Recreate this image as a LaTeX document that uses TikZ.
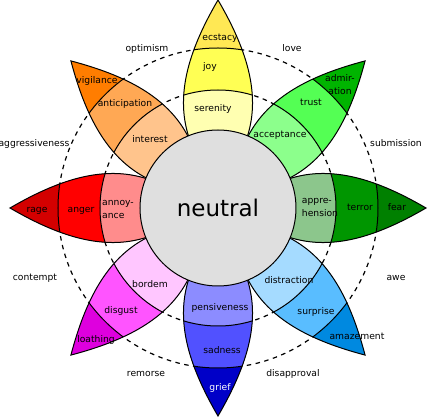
\documentclass[tikz,border=0pt]{standalone}
\usepackage{fontspec}
\setmainfont{DejaVu Sans}
\definecolor{ecst}{HTML}{FFE854}
\definecolor{joyc}{HTML}{FFFF54}
\definecolor{sere}{HTML}{FFFFB1}
\definecolor{admi}{HTML}{00B400}
\definecolor{trus}{HTML}{54FF54}
\definecolor{acce}{HTML}{8CFF8C}
\definecolor{fear}{HTML}{008000}
\definecolor{terr}{HTML}{009600}
\definecolor{appr}{HTML}{8CC68C}
\definecolor{amaz}{HTML}{0089E0}
\definecolor{surp}{HTML}{59BDFF}
\definecolor{dist}{HTML}{A5DBFF}
\definecolor{grie}{HTML}{0000C8}
\definecolor{sadn}{HTML}{5151FF}
\definecolor{pens}{HTML}{8C8CFF}
\definecolor{loat}{HTML}{DE00DE}
\definecolor{disg}{HTML}{FF54FF}
\definecolor{bord}{HTML}{FFC6FF}
\definecolor{rage}{HTML}{D40000}
\definecolor{ange}{HTML}{FF0000}
\definecolor{anno}{HTML}{FF8C8C}
\definecolor{vigi}{HTML}{FF7D00}
\definecolor{anti}{HTML}{FFA854}
\definecolor{inte}{HTML}{FFC48C}
\definecolor{neut}{HTML}{DFDFDF}
\begin{document}
\begin{tikzpicture}[x=1pt,y=1pt,
  lbl/.style={font=\fontsize{9.2}{13}\selectfont, inner sep=0pt, anchor=base, yshift=-3.2pt},
  lbltwo/.style={font=\fontsize{9.2}{13}\selectfont, inner sep=0pt, anchor=center},
  outl/.style={draw=black, line width=1pt},
  dashring/.style={draw=black, line width=1.2pt, dash pattern=on 4.5pt off 4.5pt}]
\useasboundingbox (-218,-212) rectangle (211,208);
\coordinate (c) at (0,0);
\draw[dashring] (c) circle[radius=118pt];
\draw[dashring] (c) circle[radius=160pt];
\def\petal{(0,40) -- (-29.5,72) .. controls (-43,115) and (-28,160) .. (0,208) .. controls (28,160) and (43,115) .. (29.5,72) -- cycle}
\foreach \a/\co/\cm/\ci in {0/ecst/joyc/sere, -45/admi/trus/acce, -90/fear/terr/appr, -135/amaz/surp/dist, 180/grie/sadn/pens, 135/loat/disg/bord, 90/rage/ange/anno, 45/vigi/anti/inte}{
  \begin{scope}[rotate=\a]
    \begin{scope}
      \clip \petal;
      \fill[\co] (0,0) circle[radius=230pt];
      \fill[\cm] (0,0) circle[radius=160pt];
      \fill[\ci] (0,0) circle[radius=118pt];
      \draw[line width=1pt] (0,0) circle[radius=160pt] (0,0) circle[radius=118pt];
    \end{scope}
    \draw[outl] \petal;
  \end{scope}
}
\node[circle, draw=black, line width=1pt, fill=neut, minimum size=156pt, inner sep=0pt, font=\fontsize{23}{23}\selectfont] (neutral) at (c) {neutral};
% petal labels
\node[lbl] (ecstacy) at (2,171) {ecstacy};
\node[lbl] (joy) at (-8,142) {joy};
\node[lbl] (serenity) at (-5,100) {serenity};
\node[lbltwo,align=center] (admiration) at (122,123) {admir-\\ation};
\node[lbl] (trust) at (93,106) {trust};
\node[lbl] (acceptance) at (62,74) {acceptance};
\node[lbltwo,align=left] (apprehension) at (102,1) {appre-\\hension};
\node[lbl] (terror) at (142,1) {terror};
\node[lbl] (fearl) at (179,1) {fear};
\node[lbl] (distraction) at (71,-72) {distraction};
\node[lbl] (surprise) at (98,-103) {surprise};
\node[lbl] (amazement) at (139,-128) {amazement};
\node[lbl] (pensiveness) at (2,-99) {pensiveness};
\node[lbl] (sadness) at (4,-142) {sadness};
\node[lbl,text=white] (grief) at (2,-179) {grief};
\node[lbl] (bordem) at (-68,-76) {bordem};
\node[lbl] (disgust) at (-97,-102) {disgust};
\node[lbl] (loathing) at (-122,-131) {loathing};
\node[lbl] (ragel) at (-181,-1) {rage};
\node[lbl] (anger) at (-137,-1) {anger};
\node[lbltwo,align=left] (annoyance) at (-100,-1) {annoy-\\ance};
\node[lbl] (vigilance) at (-121,128) {vigilance};
\node[lbl] (anticipation) at (-93,105) {anticipation};
\node[lbl] (interest) at (-68,69) {interest};
% dyad labels
\node[lbl] (optimism) at (-71,160) {optimism};
\node[lbl] (love) at (74,160) {love};
\node[lbl] (submission) at (178,65) {submission};
\node[lbl] (awe) at (178,-69) {awe};
\node[lbl] (disapproval) at (75,-165) {disapproval};
\node[lbl] (remorse) at (-72,-165) {remorse};
\node[lbl] (contempt) at (-183,-69) {contempt};
\node[lbl] (aggressiveness) at (-184,65) {aggressiveness};
\end{tikzpicture}
\end{document}
